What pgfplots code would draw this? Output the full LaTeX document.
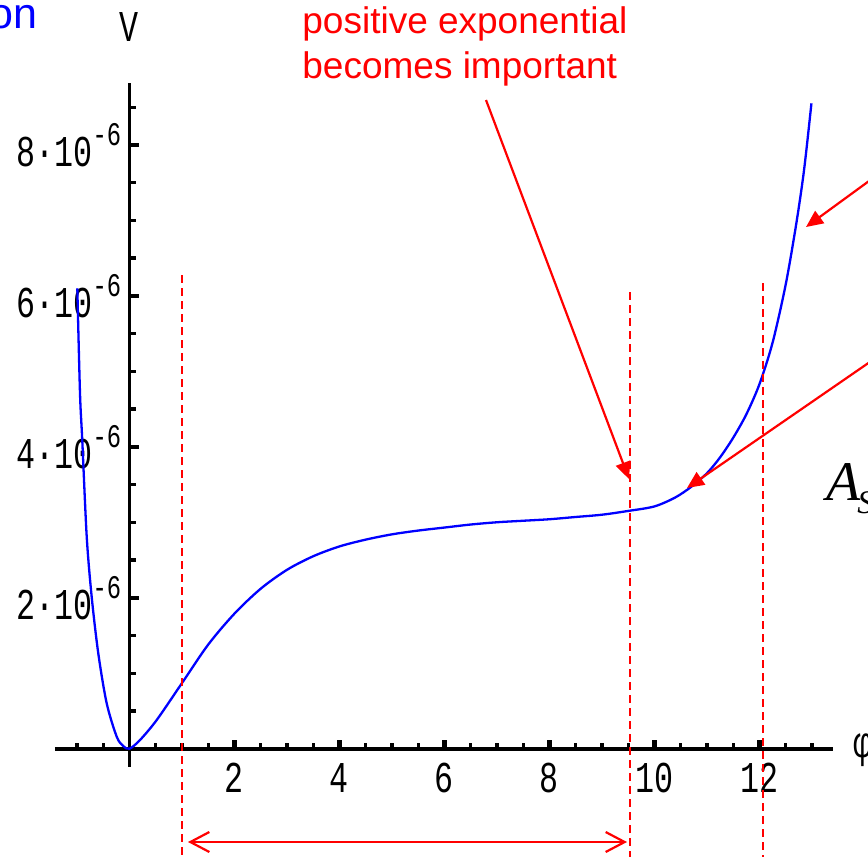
\documentclass[border=0pt]{standalone}
\usepackage{pgfplots}
\pgfplotsset{compat=1.18}
\usepackage{graphicx}
\usepackage{fontspec}
\setmainfont{Liberation Sans}
\setmonofont{Liberation Mono}
\newfontfamily\timesfont{Liberation Serif}
\usetikzlibrary{arrows.meta}

\newcommand{\tl}[1]{\scalebox{0.72}[1]{\fontsize{22}{22}\ttfamily #1}}
\newcommand{\ylab}[1]{\scalebox{0.72}[1]{\fontsize{22}{22}\ttfamily #1·10\raisebox{10.5pt}{\fontsize{16.5}{16.5}\selectfont -6}}}

\begin{document}
\begin{tikzpicture}
\begin{axis}[
  at={(64.75pt,-374.35pt)}, anchor=origin,
  scale only axis, width=389pt, height=342pt,
  xmin=-1.42, xmax=13.4, ymin=-0.242e-6, ymax=8.82e-6,
  axis lines=middle,
  axis line style={-},
  x axis line style={line width=1.9pt},
  y axis line style={line width=1.2pt},
  xtick={2,4,6,8,10,12},
  xticklabels={\tl{2},\tl{4},\tl{6},\tl{8},\tl{10},\tl{12}},
  minor xtick={-1,-0.5,0.5,1,1.5,2.5,3,3.5,4.5,5,5.5,6.5,7,7.5,8.5,9,9.5,10.5,11,11.5,12.5,13},
  ytick={2e-6,4e-6,6e-6,8e-6},
  yticklabels={\ylab{2},\ylab{4},\ylab{6},\ylab{8}},
  minor ytick={0.5e-6,1e-6,1.5e-6,2.5e-6,3e-6,3.5e-6,4.5e-6,5e-6,5.5e-6,6.5e-6,7e-6,7.5e-6,8.5e-6},
  scaled y ticks=false,
  tick align=inside,
  major tick length=4.5pt, minor tick length=3pt,
  every tick/.style={line width=2pt, black},
  every major tick/.style={line width=2.2pt, black},
  every minor tick/.style={line width=1.6pt, black},
  xticklabel style={anchor=north, inner sep=0pt, yshift=-7pt},
  yticklabel style={anchor=east, inner sep=0pt, xshift=-4pt},
  clip=false,
]
\addplot[blue, line width=1.15pt, smooth] coordinates {
(-0.994,6.10e-6) (-0.943,4.71e-6) (-0.90,4.09e-6) (-0.815,2.81e-6) (-0.72,2.01e-6)
(-0.594,1.26e-6) (-0.434,0.60e-6) (-0.244,0.16e-6) (-0.12,0.035e-6) (0,0)
(0.2,0.115e-6) (0.518,0.38e-6) (1.0,0.87e-6) (1.5,1.38e-6) (2.0,1.79e-6)
(2.5,2.12e-6) (3.0,2.37e-6) (3.5,2.55e-6) (4.0,2.68e-6) (4.5,2.77e-6)
(5.0,2.84e-6) (5.5,2.89e-6) (6.0,2.93e-6) (6.5,2.97e-6) (7.0,3.00e-6)
(7.5,3.02e-6) (8.0,3.04e-6) (8.5,3.07e-6) (9.0,3.10e-6) (9.5,3.15e-6)
(10.0,3.21e-6) (10.4,3.33e-6) (10.7,3.47e-6) (11.0,3.65e-6) (11.25,3.86e-6)
(11.5,4.12e-6) (11.75,4.43e-6) (12.0,4.83e-6) (12.25,5.38e-6) (12.5,6.15e-6)
(12.7,6.95e-6) (12.85,7.67e-6) (12.99,8.55e-6)
};
\end{axis}
\begin{scope}[x=0.5pt,y=-0.5pt]
  % axis names
  \node[inner sep=0] at (129,27) {\tl{V}};
  \node[inner sep=0, anchor=west] at (853,750) {\tl{φ}};
  % dashed guides
  \begin{scope}[red, line width=1.1pt, dash pattern=on 4pt off 2.5pt]
    \draw (181.7,275) -- (181.7,860);
    \draw (630,292) -- (630,860);
    \draw (762.7,283) -- (762.7,860);
  \end{scope}
  % arrows
  \begin{scope}[red, line width=1.1pt, -{Triangle[length=8.5pt,width=7.5pt]}]
    \draw (486,100) -- (629,479);
    \draw (880,173) -- (806,227);
    \draw (880,355) -- (687,488);
  \end{scope}
  \draw[red, line width=1.1pt, {Straight Barb[length=9.5pt,width=10pt]}-{Straight Barb[length=9.5pt,width=10pt]}] (188,842) -- (627,842);
  % texts
  \node[red, anchor=base west, inner sep=0, font=\fontsize{18.5}{22}\selectfont] at (302,33) {positive exponential};
  \node[red, anchor=base west, inner sep=0, font=\fontsize{18.5}{22}\selectfont] at (302,78) {becomes important};
  \node[blue, anchor=base east, inner sep=0, font=\fontsize{21.5}{24}\selectfont] at (38,28) {on};
  \node[anchor=base west, inner sep=0, font=\timesfont\itshape\fontsize{28}{30}\selectfont] at (826,500) {A};
  \node[anchor=base west, inner sep=0, font=\timesfont\itshape\fontsize{16.5}{18}\selectfont] at (857,513) {S};
\end{scope}
\pgfresetboundingbox
\useasboundingbox (0,0) rectangle (434pt,-428.5pt);
\end{tikzpicture}
\end{document}
